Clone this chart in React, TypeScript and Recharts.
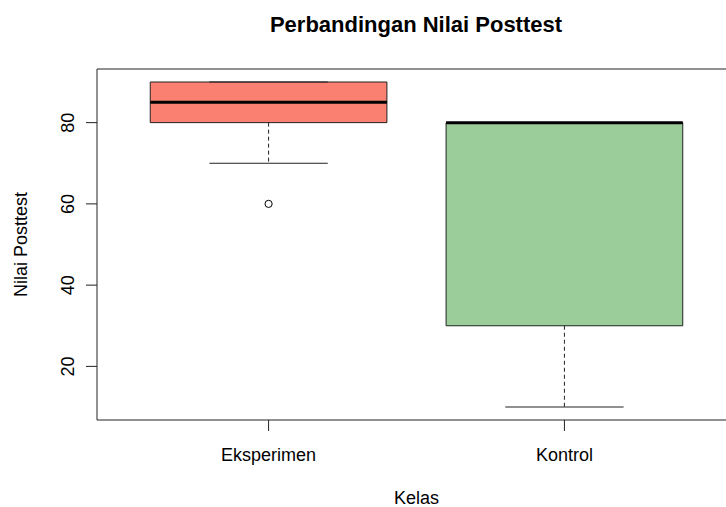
import React from 'react';
import {
  ComposedChart,
  XAxis,
  YAxis,
  Scatter,
  ReferenceArea,
  ReferenceLine,
} from 'recharts';

// boxplot stats
const groups = ['Eksperimen', 'Kontrol'];
const lowerWhisker = [70, 10];
const q1 = [80, 30];
const median = [85, 80];
const q3 = [90, 80];
const upperWhisker = [90, 80];
const outliers = [{ x: 1, y: 60 }];
const fills = ['#FA8072', '#9BCD9B'];

const yTicks = [20, 40, 60, 80];
const Y_DOMAIN: [number, number] = [6.8, 93.2];
const X_DOMAIN: [number, number] = [0.42, 2.58];

const FONT = '"Liberation Sans", Arial, Helvetica, sans-serif';
const LINE = '#222';
const BOX_HALF = 0.4;
const CAP_HALF = 0.2;

function YTick({ x, y, payload }: any) {
  return (
    <text
      x={x - 12.5}
      y={y}
      transform={`rotate(-90, ${x - 12.5}, ${y})`}
      textAnchor="middle"
      fontSize={18}
      fontFamily={FONT}
      fill="#000"
    >
      {payload.value}
    </text>
  );
}

function XTick({ x, y, payload }: any) {
  return (
    <text x={x} y={y + 30} textAnchor="middle" fontSize={18} fontFamily={FONT} fill="#000">
      {groups[payload.value - 1]}
    </text>
  );
}

function OpenCircle({ cx, cy }: any) {
  return <circle cx={cx} cy={cy} r={3.6} fill="#fff" stroke="#000" strokeWidth={1} />;
}

export default function App() {
  return (
    <div
      style={{
        position: 'absolute',
        left: 0,
        top: 0,
        width: 726,
        height: 507,
        overflow: 'hidden',
        background: '#fff',
        fontFamily: FONT,
      }}
    >
      <div
        style={{
          position: 'absolute',
          left: 216,
          width: 400,
          top: 12,
          textAlign: 'center',
          fontWeight: 'bold',
          fontSize: 22,
          color: '#000',
        }}
      >
        Perbandingan Nilai Posttest
      </div>
      <ComposedChart
        width={760}
        height={507}
        margin={{ top: 69, right: 24, bottom: 0, left: 0 }}
      >
        <XAxis
          type="number"
          dataKey="x"
          domain={X_DOMAIN}
          ticks={[1, 2]}
          allowDataOverflow
          height={87}
          tickSize={11}
          tickMargin={0}
          tick={<XTick />}
          axisLine={{ stroke: LINE }}
          tickLine={{ stroke: LINE }}
          label={{
            content: ({ viewBox }: any) => (
              <text
                x={viewBox.x + viewBox.width / 2}
                y={504}
                textAnchor="middle"
                fontSize={18}
                fontFamily={FONT}
                fill="#000"
              >
                Kelas
              </text>
            ),
          }}
        />
        <YAxis
          type="number"
          dataKey="y"
          domain={Y_DOMAIN}
          ticks={yTicks}
          allowDataOverflow
          width={97}
          tickSize={11}
          tickMargin={0}
          tick={<YTick />}
          axisLine={{ stroke: LINE }}
          tickLine={{ stroke: LINE }}
          label={{
            content: ({ viewBox }: any) => {
              const cy = viewBox.y + viewBox.height / 2;
              return (
                <text
                  x={27}
                  y={cy}
                  transform={`rotate(-90, 27, ${cy})`}
                  textAnchor="middle"
                  fontSize={18}
                  fontFamily={FONT}
                  fill="#000"
                >
                  Nilai Posttest
                </text>
              );
            },
          }}
        />
        {/* top border of the plot frame */}
        <ReferenceLine y={Y_DOMAIN[1]} stroke={LINE} ifOverflow="visible" />

        {groups.map((g, i) => {
          const c = i + 1;
          return (
            <React.Fragment key={g}>
              <ReferenceLine
                segment={[{ x: c, y: q1[i] }, { x: c, y: lowerWhisker[i] }]}
                stroke={LINE}
                strokeDasharray="4 3"
              />
              <ReferenceLine
                segment={[{ x: c, y: q3[i] }, { x: c, y: upperWhisker[i] }]}
                stroke={LINE}
                strokeDasharray="4 3"
              />
              <ReferenceLine
                segment={[
                  { x: c - CAP_HALF, y: lowerWhisker[i] },
                  { x: c + CAP_HALF, y: lowerWhisker[i] },
                ]}
                stroke={LINE}
              />
              <ReferenceLine
                segment={[
                  { x: c - CAP_HALF, y: upperWhisker[i] },
                  { x: c + CAP_HALF, y: upperWhisker[i] },
                ]}
                stroke={LINE}
              />
              <ReferenceArea
                x1={c - BOX_HALF}
                x2={c + BOX_HALF}
                y1={q1[i]}
                y2={q3[i]}
                fill={fills[i]}
                fillOpacity={1}
                stroke={LINE}
                strokeWidth={1}
              />
              <ReferenceLine
                segment={[
                  { x: c - BOX_HALF, y: median[i] },
                  { x: c + BOX_HALF, y: median[i] },
                ]}
                stroke="#000"
                strokeWidth={3}
              />
            </React.Fragment>
          );
        })}

        <Scatter data={outliers} shape={<OpenCircle />} isAnimationActive={false} />
      </ComposedChart>
    </div>
  );
}
